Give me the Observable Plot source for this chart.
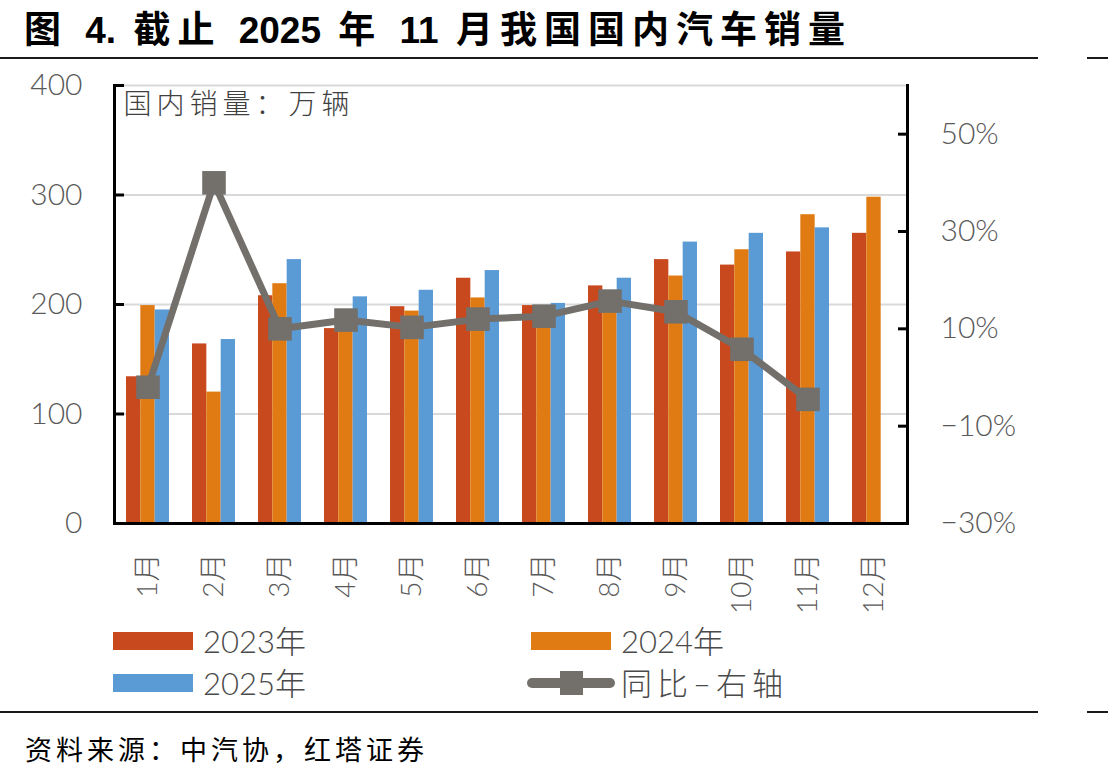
<!DOCTYPE html>
<html>
<head>
<meta charset="utf-8">
<script src="https://cdn.jsdelivr.net/npm/d3@7"></script>
<script src="https://cdn.jsdelivr.net/npm/@observablehq/plot@0.6"></script>
<style>
  html, body { margin: 0; padding: 0; background: #fff; }
  #fig { position: relative; width: 1108px; height: 776px; overflow: hidden; background: #fff; }
  .title { position: absolute; left: 24px; top: 0px; font-family: "Liberation Sans", "Noto Sans CJK SC", sans-serif;
           font-weight: 700; font-size: 37px; color: #000; white-space: nowrap; letter-spacing: 7px; }
  .title .num { letter-spacing: 0; }
  .rule { position: absolute; height: 2px; background: #1a1a1a; }
  #chart { position: absolute; left: 0; top: 60px; }
  .lg-sw { position: absolute; width: 80px; height: 18px; }
  .lg-tx { position: absolute; font-family: Lato, "Noto Sans CJK SC", sans-serif; font-weight: 300; font-size: 31px;
           color: #4a4a4a; white-space: nowrap; line-height: 1; }
  .source { position: absolute; left: 25px; top: 729px; font-family: "Noto Sans CJK SC", sans-serif; font-size: 27px;
            letter-spacing: 4px; color: #000; white-space: nowrap; }
</style>
</head>
<body>
<div id="fig">
  <div class="title">图 <span class="num">4.</span> 截止 <span class="num">2025</span> 年 <span class="num">11</span> 月我国国内汽车销量</div>
  <div class="rule" style="left:0; top:57px; width:1038px;"></div>
  <div class="rule" style="left:1087px; top:57px; width:21px;"></div>
  <div id="chart"></div>
  <div id="legend"></div>
  <div class="rule" style="left:0; top:711px; width:1038px;"></div>
  <div class="rule" style="left:1087px; top:711px; width:21px;"></div>
  <div class="source">资料来源：中汽协，红塔证券</div>
</div>
<script>
// Domestic vehicle sales (10k units) by month, and 2025 year-on-year growth (%)
const months = ["1月", "2月", "3月", "4月", "5月", "6月", "7月", "8月", "9月", "10月", "11月", "12月"];
const sales2023 = [134, 164, 208, 178, 198, 224, 199, 217, 241, 236, 248, 265];
const sales2024 = [199, 120, 219, 185, 194, 206, 179, 194, 226, 250, 282, 298];
const sales2025 = [195, 168, 241, 207, 213, 231, 201, 224, 257, 265, 270];
const yoy2025 = [-2.0, 40.0, 10.0, 11.8, 10.3, 12.0, 12.6, 15.7, 13.5, 5.8, -4.5];

const seriesNames = ["2023年", "2024年", "2025年"];
const seriesColors = ["#C9491F", "#DF7B12", "#5B9BD5"];
const lineName = "同比–右轴";
const lineColor = "#73706c";
const unitLabel = "国内销量：万辆";

// Left axis 0–400, right axis −30%–60% share the same vertical extent
const leftMax = 400, rightMin = -30, rightMax = 60;
const toLeft = p => (p - rightMin) / (rightMax - rightMin) * leftMax;
const fromLeft = v => v / leftMax * (rightMax - rightMin) + rightMin;
const rightTicks = [-30, -10, 10, 30, 50];

const allSales = [sales2023, sales2024, sales2025];
const bars = allSales.flatMap((vals, i) =>
  vals.map((v, j) => ({month: months[j], series: seriesNames[i], idx: i, value: v})));
const yoy = yoy2025.map((v, j) => ({month: months[j], yoy: v}));

const bandWidth = 43;            // width of one month's bar group in px
const barW = bandWidth / 3;
const axisFont = "Lato, 'Noto Sans CJK SC', sans-serif";

const chart = Plot.plot({
  width: 1108,
  height: 560,
  marginTop: 25,
  marginBottom: 97,
  marginLeft: 114,
  marginRight: 201,
  style: {fontFamily: axisFont, fontWeight: 300, color: "#595959", background: "transparent"},
  x: {domain: months, paddingInner: 0.351, paddingOuter: 0.1755, label: null},
  y: {domain: [0, leftMax], label: null},
  marks: [
    Plot.ruleY([100, 200, 300, 400], {stroke: "#d9d9d9", strokeWidth: 2}),
    ...seriesNames.map((name, i) =>
      Plot.barY(bars.filter(d => d.idx === i), {
        x: "month", y: "value", fill: seriesColors[i],
        insetLeft: i * barW, insetRight: (2 - i) * barW
      })),
    Plot.lineY(yoy, {x: "month", y: d => toLeft(d.yoy), stroke: lineColor, strokeWidth: 7, strokeLinejoin: "miter"}),
    Plot.dot(yoy, {x: "month", y: d => toLeft(d.yoy), symbol: "square", r: 13.3, fill: lineColor, stroke: "none"}),
    Plot.frame({anchor: "left", stroke: "#000", strokeWidth: 3}),
    Plot.frame({anchor: "right", stroke: "#000", strokeWidth: 3}),
    Plot.frame({anchor: "bottom", stroke: "#000", strokeWidth: 3}),
    Plot.axisY({anchor: "left", ticks: [0, 100, 200, 300, 400], tickSize: -10, tickPadding: 42,
      stroke: "#000", strokeWidth: 3, fontSize: 30, fill: "#595959", label: null}),
    Plot.axisY({anchor: "right", ticks: rightTicks.map(toLeft), tickSize: -10, tickPadding: 43,
      tickFormat: v => { const p = Math.round(fromLeft(v)); return (p < 0 ? "−" : "") + Math.abs(p) + "%"; },
      stroke: "#000", strokeWidth: 3, fontSize: 30, fill: "#595959", label: null}),
    Plot.axisX({anchor: "bottom", tickRotate: -90, tickSize: 0, tickPadding: 30, fontSize: 28,
      fill: "#595959", label: null}),
    Plot.text([unitLabel], {frameAnchor: "top-left", dx: 9, dy: 9, fontSize: 28,
      fill: "#404040", fontFamily: "'Noto Sans CJK SC', sans-serif", fontWeight: 300})
  ]
});
// widen the spacing of the unit note inside the plot area
d3.select(chart).selectAll("text").filter(function () { return this.textContent === unitLabel; })
  .attr("letter-spacing", 5);
document.getElementById("chart").appendChild(chart);

// Legend below the chart
const legend = document.getElementById("legend");
const legendItems = [
  {name: seriesNames[0], color: seriesColors[0], left: 113, top: 632},
  {name: seriesNames[1], color: seriesColors[1], left: 531, top: 632},
  {name: seriesNames[2], color: seriesColors[2], left: 113, top: 674}
];
legendItems.forEach(it => {
  const sw = document.createElement("div");
  sw.className = "lg-sw";
  sw.style.left = it.left + "px"; sw.style.top = it.top + "px"; sw.style.background = it.color;
  legend.appendChild(sw);
  const tx = document.createElement("div");
  tx.className = "lg-tx";
  tx.style.left = (it.left + 90) + "px"; tx.style.top = (it.top - 6) + "px";
  tx.textContent = it.name;
  legend.appendChild(tx);
});
const ns = "http://www.w3.org/2000/svg";
const ls = document.createElementNS(ns, "svg");
ls.setAttribute("width", 100); ls.setAttribute("height", 30);
ls.style.position = "absolute"; ls.style.left = "520px"; ls.style.top = "668px";
const ln = document.createElementNS(ns, "line");
ln.setAttribute("x1", 12); ln.setAttribute("x2", 90); ln.setAttribute("y1", 15); ln.setAttribute("y2", 15);
ln.setAttribute("stroke", lineColor); ln.setAttribute("stroke-width", 10); ln.setAttribute("stroke-linecap", "round");
ls.appendChild(ln);
const sq = document.createElementNS(ns, "rect");
sq.setAttribute("x", 40); sq.setAttribute("y", 3); sq.setAttribute("width", 23); sq.setAttribute("height", 24);
sq.setAttribute("fill", lineColor);
ls.appendChild(sq);
legend.appendChild(ls);
const lt = document.createElement("div");
lt.className = "lg-tx";
lt.style.left = "621px"; lt.style.top = "668px"; lt.style.letterSpacing = "5px";
lt.textContent = lineName;
legend.appendChild(lt);
</script>
</body>
</html>
